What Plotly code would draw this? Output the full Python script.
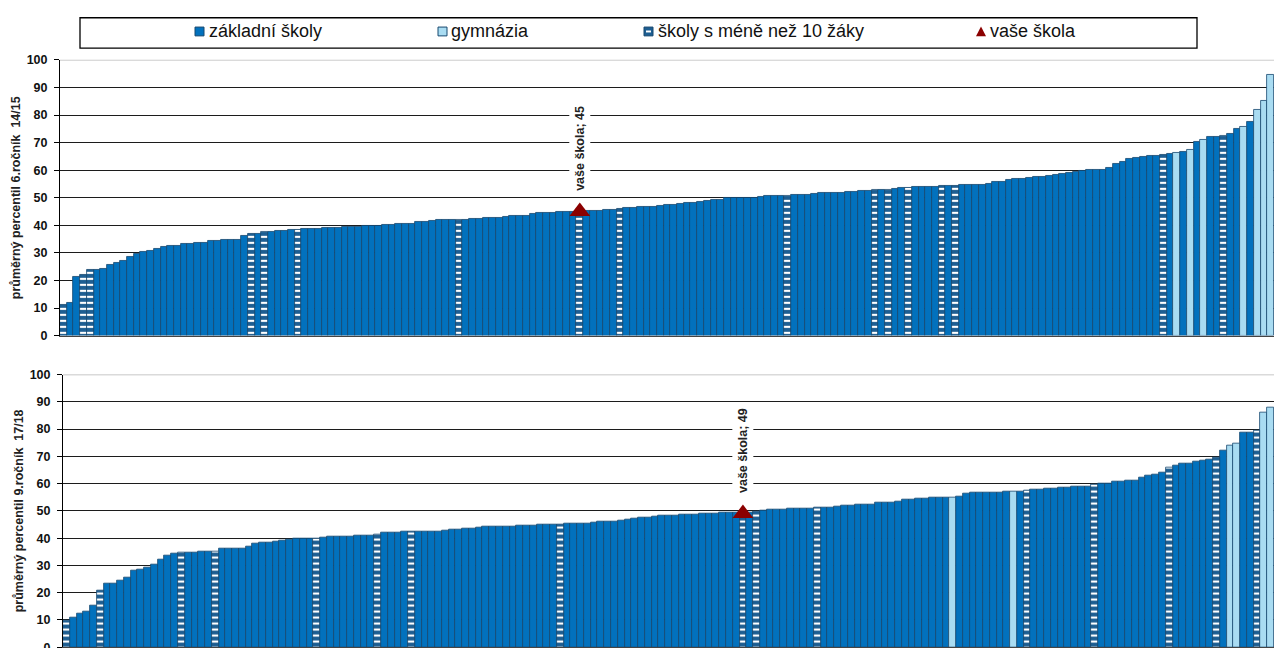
import plotly.graph_objects as go

W, H = 1274, 662

# ---------------- data: 6th grade 14/15 (sorted schools) ----------------
values_6 = [
    11.2, 12, 21.4, 22, 24, 24, 24.2, 25.6, 26.3, 27.2,
    28.4, 29.6, 30.2, 30.8, 31.6, 32.2, 32.6, 32.7, 33.2, 33.2,
    33.6, 33.8, 34.2, 34.3, 34.7, 34.7, 34.9, 36.2, 37, 37,
    37.7, 37.8, 38, 38, 38.2, 38.4, 38.7, 38.8, 38.8, 38.9,
    39.1, 39.2, 39.3, 39.4, 39.5, 39.7, 39.8, 39.9, 40, 40.3,
    40.5, 40.6, 40.7, 41.2, 41.4, 41.6, 41.8, 41.9, 42, 42,
    42.1, 42.2, 42.5, 42.6, 42.7, 42.8, 42.9, 43.3, 43.5, 43.6,
    44.2, 44.4, 44.5, 44.6, 44.8, 44.9, 45, 45, 45.3, 45.3,
    45.4, 45.5, 45.6, 45.9, 46.3, 46.5, 46.6, 46.7, 46.8, 46.9,
    47.3, 47.5, 47.7, 48.1, 48.3, 48.5, 48.9, 49.1, 49.3, 49.8,
    50, 50, 50.1, 50.1, 50.4, 50.5, 50.6, 50.7, 50.8, 51,
    51.1, 51.2, 51.4, 51.6, 51.7, 51.8, 51.9, 52, 52.1, 52.4,
    52.5, 52.7, 52.8, 53, 53.3, 53.5, 53.6, 53.8, 53.9, 54,
    54.1, 54.2, 54.3, 54.4, 54.5, 54.5, 54.6, 54.6, 55.2, 55.7,
    55.9, 56.5, 56.8, 57, 57.3, 57.5, 57.7, 58, 58.3, 58.5,
    59, 59.3, 59.8, 60, 60.1, 60.2, 60.7, 62.2, 63, 64,
    64.6, 64.9, 65.1, 65.3, 65.6, 66, 66.4, 66.8, 67.2, 70.3,
    70.9, 71.9, 72.1, 72.5, 73.3, 74.8, 75.6, 77.4, 81.8, 85,
    94.5,
]
gym_6 = [166, 168, 170, 176, 178, 179, 180]
small_6 = [0, 3, 4, 28, 30, 35, 59, 77, 83, 108, 121, 123, 126, 131, 133, 164, 173]
school_6 = 77
school_value_6 = 45

# ---------------- data: 9th grade 17/18 (sorted schools) ----------------
values_9 = [
    9.8, 10.8, 12.2, 13.2, 15.3, 20.8, 23.2, 23.2, 24.4, 25.7,
    28.1, 28.6, 29.2, 30.2, 32.3, 33.6, 34.5, 34.6, 34.7, 34.8,
    34.9, 35, 35.2, 36, 36.1, 36.1, 36.3, 36.8, 38, 38.2,
    38.5, 38.6, 39.1, 39.6, 39.7, 39.7, 39.8, 40, 40.2, 40.4,
    40.5, 40.6, 40.7, 40.8, 40.9, 41, 41.3, 42, 42.1, 42.2,
    42.3, 42.4, 42.4, 42.4, 42.5, 42.5, 42.6, 43, 43.1, 43.5,
    43.6, 43.7, 44.1, 44.2, 44.3, 44.3, 44.4, 44.5, 44.6, 44.7,
    44.8, 44.9, 45, 45, 45.2, 45.3, 45.4, 45.5, 45.8, 45.9,
    46, 46.1, 46.6, 46.8, 47, 47.5, 47.7, 47.9, 48.2, 48.3,
    48.4, 48.6, 48.7, 48.8, 48.9, 49, 49, 49.2, 49.3, 49.4,
    49.4, 49.5, 49.9, 50.2, 50.3, 50.4, 50.5, 50.8, 50.9, 51,
    51, 51.1, 51.2, 51.3, 51.4, 52, 52.1, 52.2, 52.3, 52.4,
    53, 53.1, 53.2, 53.3, 54.2, 54.3, 54.4, 54.5, 54.9, 55,
    55, 55, 55.1, 56.3, 56.6, 56.7, 56.8, 56.8, 56.9, 57,
    57, 57.2, 57.5, 57.9, 58, 58.1, 58.2, 58.6, 58.7, 58.8,
    58.9, 59, 59.7, 59.9, 60, 60.6, 60.8, 61, 61.2, 62.3,
    63, 63.5, 64.2, 66, 66.8, 67.2, 67.5, 68.2, 68.5, 68.7,
    69.7, 72.1, 74, 74.8, 78.6, 78.8, 79.5, 86.2, 88,
]
gym_9 = [131, 140, 172, 173, 177, 178]
small_9 = [0, 5, 17, 22, 37, 46, 51, 73, 100, 102, 111, 142, 152, 163, 170, 176]
school_9 = 100
school_value_9 = 49

y_ticks = [0, 10, 20, 30, 40, 50, 60, 70, 80, 90, 100]
legend_labels = ["základní školy", "gymnázia", "školy s méně než 10 žáky", "vaše škola"]
y_titles = ["průměrný percentil 6.ročník  14/15", "průměrný percentil 9.ročník  17/18"]

# ---------------- styles ----------------
C_BASE = "#0271BD"
C_GYM = "#A9DCF2"
C_EDGE = "#17486F"
C_SMALL_BG = "#1D5E92"
C_SCHOOL = "#8B0000"
FONT = "Liberation Sans, Arial, sans-serif"

fig = go.Figure()


def add_panel(values, gym, small, school, school_val, xa, ya):
    n = len(values)
    base_idx = [i for i in range(n) if i not in gym and i not in small]
    fig.add_trace(go.Bar(
        x=base_idx, y=[values[i] for i in base_idx], width=1,
        marker=dict(color=C_BASE, line=dict(color=C_EDGE, width=0.8)),
        xaxis=xa, yaxis=ya, showlegend=False, name=legend_labels[0]))
    fig.add_trace(go.Bar(
        x=gym, y=[values[i] for i in gym], width=1,
        marker=dict(color=C_GYM, line=dict(color=C_EDGE, width=0.8)),
        xaxis=xa, yaxis=ya, showlegend=False, name=legend_labels[1]))
    fig.add_trace(go.Bar(
        x=small, y=[values[i] for i in small], width=1,
        marker=dict(color=C_SMALL_BG, line=dict(color=C_EDGE, width=0.8),
                    pattern=dict(shape="-", fgcolor="white", bgcolor=C_SMALL_BG,
                                 size=6, solidity=0.35, fillmode="replace")),
        xaxis=xa, yaxis=ya, showlegend=False, name=legend_labels[2]))
    fig.add_trace(go.Scatter(
        x=[school], y=[school_val], mode="markers",
        marker=dict(symbol="triangle-up", size=18, color=C_SCHOOL),
        xaxis=xa, yaxis=ya, showlegend=False, name=legend_labels[3]))
    fig.add_annotation(
        x=school, y=school_val, xref=xa, yref=ya,
        text=f"vaše škola; {school_val}", textangle=-90,
        showarrow=False, yanchor="bottom", xanchor="center", yshift=17,
        bgcolor="white", borderpad=3,
        font=dict(family=FONT, size=12.5, color="#222", weight="bold"))


add_panel(values_6, gym_6, small_6, school_6, school_value_6, "x", "y")
add_panel(values_9, gym_9, small_9, school_9, school_value_9, "x2", "y2")

xcommon = dict(showgrid=False, showticklabels=False, zeroline=False, ticks="",
               showline=True, linecolor="#444", linewidth=1)
ycommon = dict(range=[0, 100], tickvals=y_ticks, showgrid=True, gridcolor="#1c1c1c",
               gridwidth=1, zeroline=False, showline=True, linecolor="black",
               linewidth=1, ticks="outside", ticklen=5, tickcolor="black",
               ticklabelstandoff=4,
               tickfont=dict(family=FONT, size=12.5, color="#111", weight="bold"))
title_font = dict(family=FONT, size=12.5, color="#222", weight="bold")


# vertical placement (page pixels from top)
def dom(y_top, y_bot):
    return [(H - y_bot) / H, (H - y_top) / H]


fig.update_layout(
    width=W, height=H,
    margin=dict(l=0, r=0, t=0, b=0),
    paper_bgcolor="white", plot_bgcolor="white",
    barmode="overlay", bargap=0,
    xaxis=dict(domain=[60 / W, 1], range=[-0.5, len(values_6) - 0.5], anchor="y", **xcommon),
    yaxis=dict(domain=dom(54, 335.7), anchor="x",
               title=dict(text=y_titles[0], standoff=3, font=title_font), **ycommon),
    xaxis2=dict(domain=[63 / W, 1], range=[-0.5, len(values_9) - 0.5], anchor="y2", **xcommon),
    yaxis2=dict(domain=dom(375.5, 654), anchor="x2",
                title=dict(text=y_titles[1], standoff=3, font=title_font), **ycommon),
)

# top gridline at 100 is lighter in the reference
for ya, xa in (("y", "x"), ("y2", "x2")):
    fig.add_shape(type="line", xref=f"{xa} domain", yref=ya, x0=0, x1=1, y0=100, y1=100,
                  line=dict(color="#b5b5b5", width=1.2), layer="above")


# ---------------- legend box (manual, to match reference placement) ----------------
def px(x):
    return x / W


def py(y):
    return 1 - y / H


fig.add_shape(type="rect", xref="paper", yref="paper",
              x0=px(80), x1=px(1197), y0=py(42), y1=py(11),
              line=dict(color="black", width=1.3), fillcolor="rgba(0,0,0,0)")

leg_y = 25
sq = 9
items = [
    (195, 207, "base"),
    (438, 449, "gym"),
    (644, 656, "small"),
    (976, 988, "school"),
]
for (sx, tx, kind), label in zip(items, legend_labels):
    if kind == "base":
        fig.add_shape(type="rect", xref="paper", yref="paper",
                      x0=px(sx), x1=px(sx + sq), y0=py(leg_y + sq / 2), y1=py(leg_y - sq / 2),
                      fillcolor=C_BASE, line=dict(color=C_EDGE, width=1))
    elif kind == "gym":
        fig.add_shape(type="rect", xref="paper", yref="paper",
                      x0=px(sx), x1=px(sx + sq), y0=py(leg_y + sq / 2), y1=py(leg_y - sq / 2),
                      fillcolor=C_GYM, line=dict(color=C_EDGE, width=1))
    elif kind == "small":
        fig.add_shape(type="rect", xref="paper", yref="paper",
                      x0=px(sx), x1=px(sx + sq), y0=py(leg_y + sq / 2), y1=py(leg_y - sq / 2),
                      fillcolor=C_SMALL_BG, line=dict(color=C_EDGE, width=1))
        fig.add_shape(type="rect", xref="paper", yref="paper",
                      x0=px(sx + 2), x1=px(sx + sq - 2), y0=py(leg_y + 1), y1=py(leg_y - 1),
                      fillcolor="white", line=dict(width=0))
    else:
        fig.add_shape(type="path", xref="paper", yref="paper",
                      path=(f"M {px(sx)},{py(leg_y + 5)} L {px(sx + 10)},{py(leg_y + 5)} "
                            f"L {px(sx + 5)},{py(leg_y - 5)} Z"),
                      fillcolor=C_SCHOOL, line=dict(width=0))
    fig.add_annotation(x=px(tx), y=py(leg_y), xref="paper", yref="paper",
                       xanchor="left", yanchor="middle", showarrow=False,
                       text=label, font=dict(family=FONT, size=18, color="#111"))

fig.write_html(
    "out.html",
    config={"displayModeBar": False},
    post_script="document.body.style.margin='0px';document.body.style.overflow='hidden';",
)
